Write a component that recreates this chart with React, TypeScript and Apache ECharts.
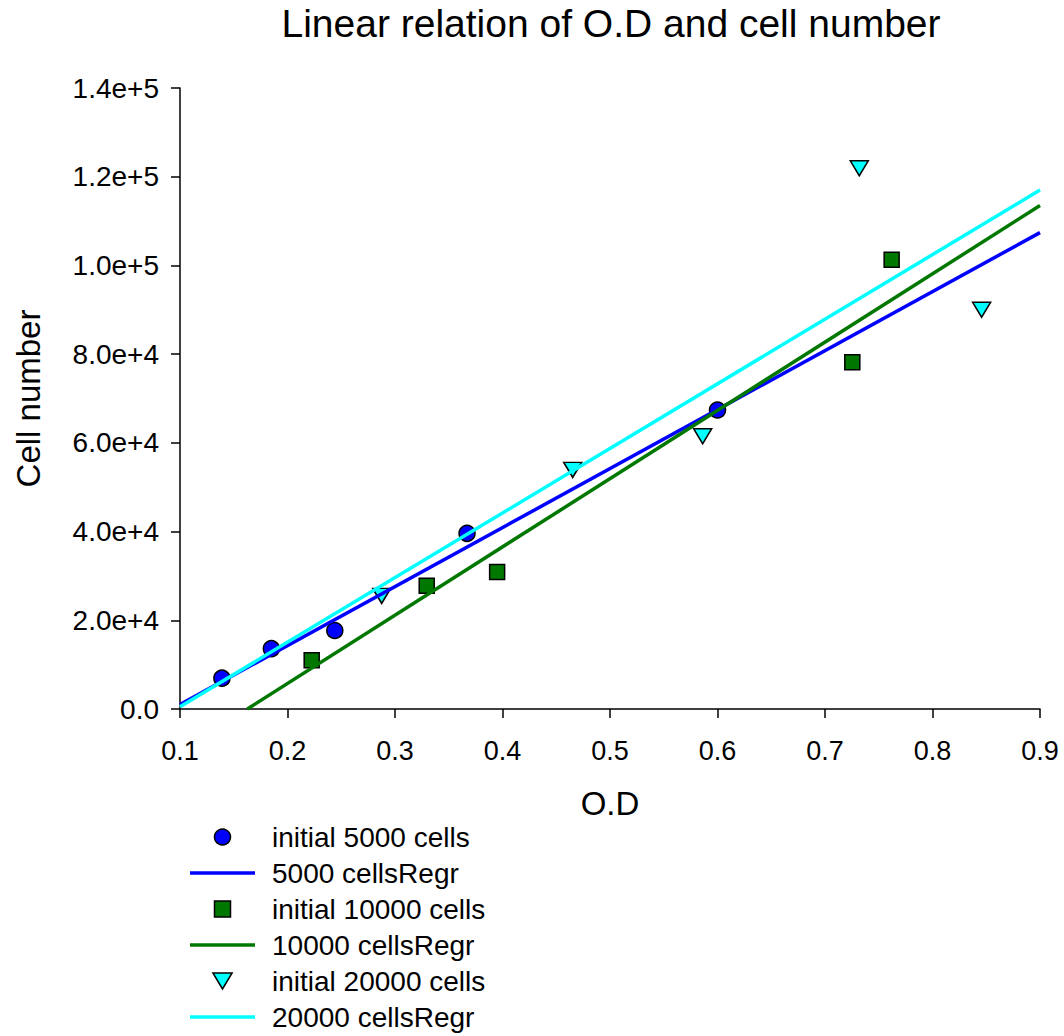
import React, { useEffect, useRef } from "react";
import * as echarts from "echarts";

const titleText = "Linear relation of O.D and cell number";
const xAxisName = "O.D";
const yAxisName = "Cell number";

const seriesNames = [
  "initial 5000 cells",
  "5000 cellsRegr",
  "initial 10000 cells",
  "10000 cellsRegr",
  "initial 20000 cells",
  "20000 cellsRegr",
];

const initial5000: [number, number][] = [
  [0.139, 6950],
  [0.185, 13600],
  [0.244, 17700],
  [0.367, 39600],
  [0.6, 67400],
];
const regr5000: [number, number][] = [
  [0.1, 1000],
  [0.9, 107400],
];

const initial10000: [number, number][] = [
  [0.2225, 11000],
  [0.3295, 27800],
  [0.395, 30900],
  [0.7254, 78200],
  [0.762, 101300],
];
const regr10000: [number, number][] = [
  [0.1626, 0],
  [0.9, 113500],
];

const initial20000: [number, number][] = [
  [0.2876, 25500],
  [0.4653, 53900],
  [0.5862, 61500],
  [0.7319, 121900],
  [0.8457, 90000],
];
const regr20000: [number, number][] = [
  [0.1, 500],
  [0.9, 117000],
];

const BLUE = "#0000ff";
const GREEN = "#007800";
const CYAN = "#00ffff";
const FONT = "'Liberation Sans', Arial, sans-serif";
const LINE_ICON = "path://M0,0H65V3.5H0Z";
const SQUARE = "path://M0,0H15V15H0Z";
const TRI_DOWN = "path://M0,0L18,0L9,15Z";

export default function App() {
  const ref = useRef<HTMLDivElement>(null);
  useEffect(() => {
    if (!ref.current) return;
    const chart = echarts.init(ref.current, undefined, { renderer: "svg" });
    const marker = (color: string) => ({
      color,
      borderColor: "#000",
      borderWidth: 1.5,
      opacity: 1,
    });
    chart.setOption({
      animation: false,
      backgroundColor: "#fff",
      title: {
        text: titleText,
        left: 611,
        top: 4,
        padding: 0,
        textAlign: "center",
        textStyle: {
          fontFamily: FONT,
          fontSize: 39,
          fontWeight: "normal",
          color: "#000",
        },
      },
      grid: { left: 180, right: 24, top: 88, bottom: 327, containLabel: false },
      xAxis: {
        type: "value",
        min: 0.1,
        max: 0.9,
        interval: 0.1,
        name: xAxisName,
        nameLocation: "middle",
        nameGap: 78,
        nameTextStyle: { fontFamily: FONT, fontSize: 33, color: "#000" },
        axisLine: { show: true, onZero: false, lineStyle: { color: "#000", width: 1.5 } },
        axisTick: { show: true, length: 9, lineStyle: { color: "#000", width: 1.5 } },
        axisLabel: {
          fontFamily: FONT,
          fontSize: 27,
          color: "#000",
          margin: 28,
          formatter: (v: number) => v.toFixed(1),
        },
        splitLine: { show: false },
      },
      yAxis: {
        type: "value",
        min: 0,
        max: 140000,
        interval: 20000,
        name: yAxisName,
        nameLocation: "middle",
        nameGap: 135,
        nameTextStyle: { fontFamily: FONT, fontSize: 33, color: "#000" },
        axisLine: { show: true, onZero: false, lineStyle: { color: "#000", width: 1.5 } },
        axisTick: { show: true, length: 9, lineStyle: { color: "#000", width: 1.5 } },
        axisLabel: {
          fontFamily: FONT,
          fontSize: 28,
          color: "#000",
          margin: 21,
          formatter: (v: number) => (v === 0 ? "0.0" : v.toExponential(1)),
        },
        splitLine: { show: false },
      },
      legend: {
        orient: "vertical",
        left: 190,
        top: 823,
        padding: 0,
        itemWidth: 65,
        itemHeight: 16,
        itemGap: 8,
        selectedMode: false,
        textStyle: {
          fontFamily: FONT,
          fontSize: 28,
          lineHeight: 28,
          color: "#000",
          padding: [0, 0, 0, 12],
        },
        data: [
          { name: seriesNames[0], icon: "circle", itemStyle: { borderColor: "#000", borderWidth: 1.5, opacity: 1 } },
          { name: seriesNames[1], icon: LINE_ICON, itemStyle: { borderWidth: 0 } },
          { name: seriesNames[2], icon: SQUARE, itemStyle: { borderColor: "#000", borderWidth: 1.5, opacity: 1 } },
          { name: seriesNames[3], icon: LINE_ICON, itemStyle: { borderWidth: 0 } },
          { name: seriesNames[4], icon: TRI_DOWN, itemStyle: { borderColor: "#000", borderWidth: 1.5, opacity: 1 } },
          { name: seriesNames[5], icon: LINE_ICON, itemStyle: { borderWidth: 0 } },
        ],
      },
      series: [
        {
          name: seriesNames[0],
          type: "scatter",
          data: initial5000,
          symbol: "circle",
          symbolSize: 16,
          itemStyle: marker(BLUE),
        },
        {
          name: seriesNames[1],
          type: "line",
          data: regr5000,
          symbol: "none",
          color: BLUE,
          itemStyle: { color: BLUE },
          lineStyle: { color: BLUE, width: 3.5 },
        },
        {
          name: seriesNames[2],
          type: "scatter",
          data: initial10000,
          symbol: SQUARE,
          symbolSize: 15,
          itemStyle: marker(GREEN),
        },
        {
          name: seriesNames[3],
          type: "line",
          data: regr10000,
          symbol: "none",
          color: GREEN,
          itemStyle: { color: GREEN },
          lineStyle: { color: GREEN, width: 3.5 },
        },
        {
          name: seriesNames[4],
          type: "scatter",
          data: initial20000,
          symbol: TRI_DOWN,
          symbolSize: [18, 15],
          itemStyle: marker(CYAN),
        },
        {
          name: seriesNames[5],
          type: "line",
          data: regr20000,
          symbol: "none",
          color: CYAN,
          itemStyle: { color: CYAN },
          lineStyle: { color: CYAN, width: 3.5 },
        },
      ],
    });
    return () => chart.dispose();
  }, []);
  return (
    <div
      ref={ref}
      style={{ position: "absolute", left: 0, top: 0, width: 1064, height: 1036 }}
    />
  );
}
